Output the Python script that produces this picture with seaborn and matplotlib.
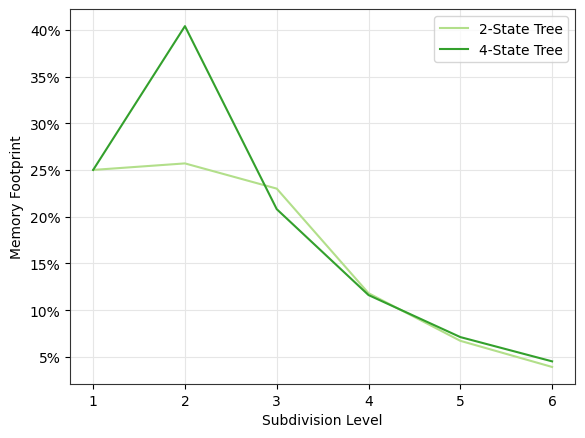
import seaborn as sns
import matplotlib.pyplot as plt
import pandas as pd
from matplotlib.ticker import PercentFormatter

levels = [1, 2, 3, 4, 5, 6]
two_state = [25.0, 25.7, 23.0, 11.8, 6.7, 3.9]
four_state = [25.0, 40.4, 20.8, 11.6, 7.1, 4.5]

df = pd.DataFrame({
    'level': levels * 2,
    'footprint': two_state + four_state,
    'tree': ['2-State Tree'] * 6 + ['4-State Tree'] * 6,
})

paired = sns.color_palette('Paired')
fig, ax = plt.subplots(figsize=(5.85, 4.39), dpi=100)
sns.lineplot(data=df, x='level', y='footprint', hue='tree',
             palette=[paired[2], paired[3]], linewidth=1.5, ax=ax)
ax.yaxis.set_major_formatter(PercentFormatter(decimals=0))
ax.set_xticks(levels)
ax.grid(True, color='#e6e6e6', linewidth=0.8)
ax.set_axisbelow(True)
for s in ax.spines.values():
    s.set_color('#333333')
ax.set_xlabel('Subdivision Level')
ax.set_ylabel('Memory Footprint')
ax.legend(title=None, loc='upper right')
fig.subplots_adjust(left=0.12, right=0.983, top=0.977, bottom=0.123)
fig.savefig('out.png')
